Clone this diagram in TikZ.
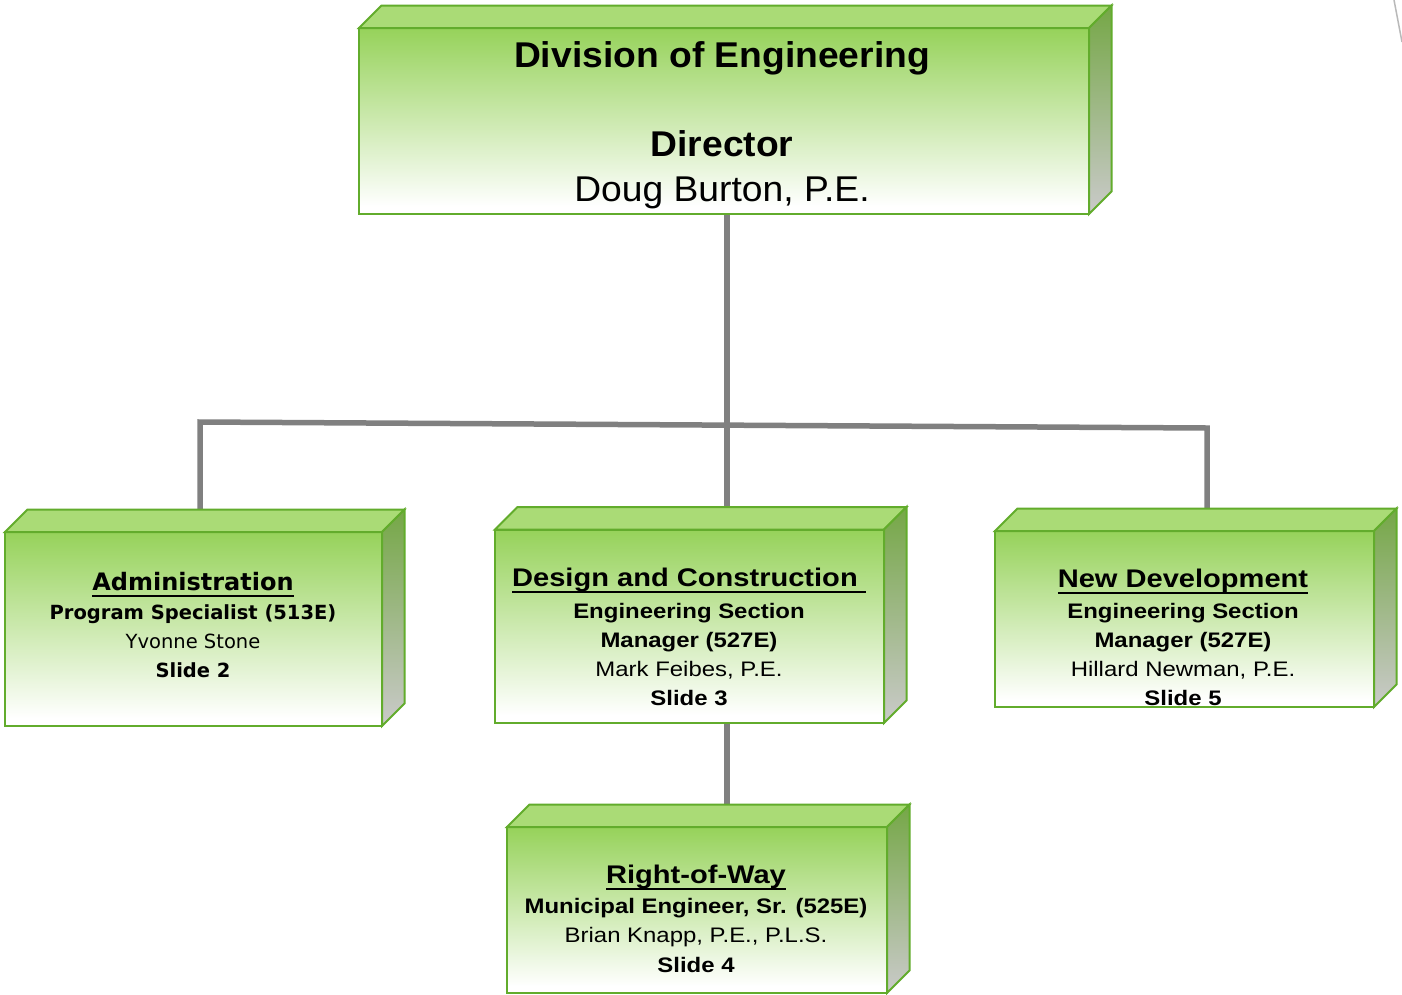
\documentclass[tikz,border=0pt]{standalone}
\usepackage{fontspec}
\setmainfont{Liberation Sans}[FakeStretch=1.14]
\newfontfamily\topfont{Liberation Sans}[FakeStretch=1.04]
\newfontfamily\adminfont{DejaVu Sans}
\usetikzlibrary{backgrounds}
\definecolor{fgreen}{RGB}{150,210,90}
\definecolor{tgreen}{RGB}{170,219,118}
\definecolor{sgreen}{RGB}{117,167,70}
\definecolor{sgray}{RGB}{202,202,202}
\definecolor{bgreen}{RGB}{98,172,44}
\definecolor{conngray}{RGB}{128,128,128}
\pgfdeclareverticalshading{frontshade}{100bp}{color(0bp)=(white); color(27bp)=(white); color(75bp)=(fgreen); color(100bp)=(fgreen)}
\pgfdeclareverticalshading{sideshade}{100bp}{color(0bp)=(sgray); color(25bp)=(sgray); color(75bp)=(sgreen); color(100bp)=(sgreen)}
\newsavebox\ulbox
\newcommand\myul[1]{\sbox\ulbox{#1}\rlap{\rule[-7pt]{\wd\ulbox}{2pt}}\usebox\ulbox}
\newcommand\dep{22.5}
\tikzset{
  frontface/.style={rectangle, draw=bgreen, line width=2pt, shade, shading=frontshade, inner sep=0pt, outer sep=0pt},
  topface/.style={fill=tgreen, draw=bgreen, line width=2pt},
  sideface/.style={shading=sideshade, draw=bgreen, line width=2pt},
  conn/.style={draw=conngray, line width=5.5pt, line join=miter},
  txt/.style={anchor=north, align=center, inner sep=0pt, text=black},
}
\newcommand\cuboid[5]{%
  \node[frontface, minimum width={(#4-#2)*1pt}, minimum height={(#5-#3)*1pt}] (#1) at ({(#2+#4)/2},{(#3+#5)/2}) {};
  \filldraw[topface] (#1.north west) -- ([shift={(\dep,-\dep)}]#1.north west) -- ([shift={(\dep,-\dep)}]#1.north east) -- (#1.north east) -- cycle;
  \shadedraw[sideface] (#1.north east) -- ([shift={(\dep,-\dep)}]#1.north east) -- ([shift={(\dep,-\dep)}]#1.south east) -- (#1.south east) -- cycle;
}
\begin{document}
\begin{tikzpicture}[x=1pt, y=-1pt]
\useasboundingbox (0,0) rectangle (1402,994);

\cuboid{director}{359}{28}{1089}{214}
\cuboid{admin}{5}{532}{382}{726}
\cuboid{design}{495}{529.5}{884}{723}
\cuboid{newdev}{995}{531}{1374}{707}
\cuboid{row}{507}{827}{887}{993}

\node[txt, font={\topfont\fontsize{35.8}{44.5}\selectfont}] (dirtxt) at (722,39)
  {\textbf{\rule{0pt}{28.5pt}Division of Engineering}\\[44.5pt]\textbf{Director}\\Doug Burton, P.E.};

\node[txt, font={\adminfont\fontsize{19.5}{29}\selectfont}] (admintxt) at (193,568)
  {{\fontsize{24}{29}\selectfont\bfseries\myul{\rule{0pt}{22pt}Administration}}\\\textbf{Program Specialist (513E)}\\Yvonne Stone\\\textbf{Slide 2}};

\node[txt, font={\fontsize{21}{29}\selectfont}] (designtxt) at (689,564)
  {{\fontsize{25.5}{29}\selectfont\bfseries\myul{\rule{0pt}{22pt}Design and Construction\ }}\\[3pt]\textbf{Engineering Section}\\\textbf{Manager (527E)}\\Mark Feibes, P.E.\\\textbf{Slide 3}};

\node[txt, font={\fontsize{21}{29}\selectfont}] (newdevtxt) at (1183,565)
  {{\fontsize{25.5}{29}\selectfont\bfseries\myul{\rule{0pt}{22pt}New Development}}\\[2pt]\textbf{Engineering Section}\\\textbf{Manager (527E)}\\Hillard Newman, P.E.\\\textbf{Slide 5}};

\node[txt, font={\fontsize{21}{29.5}\selectfont}] (rowtxt) at (696,861)
  {{\fontsize{25.5}{29.5}\selectfont\bfseries\myul{\rule{0pt}{22pt}Right-of-Way}}\\[0.5pt]\textbf{Municipal Engineer, Sr. (525E)}\\Brian Knapp, P.E., P.L.S.\\\textbf{Slide 4}};

\coordinate (hl) at (200,422);
\coordinate (hr) at (1207,428);
\coordinate (hm) at (727,425.1);

\begin{scope}[on background layer]
  \fill[white] (0,0) rectangle (1402,994);
  \draw[conn] (hm |- director.south) -- (hm) -- (hm |- design.north);
  \draw[conn] (hl |- admin.north) -- (hl) -- (hr) -- (hr |- newdev.north);
  \draw[conn] (hm |- design.south) -- (hm |- row.north);
\end{scope}

\draw[gray!55, line width=1.5pt] (1394,0) -- (1402,42);
\end{tikzpicture}
\end{document}
